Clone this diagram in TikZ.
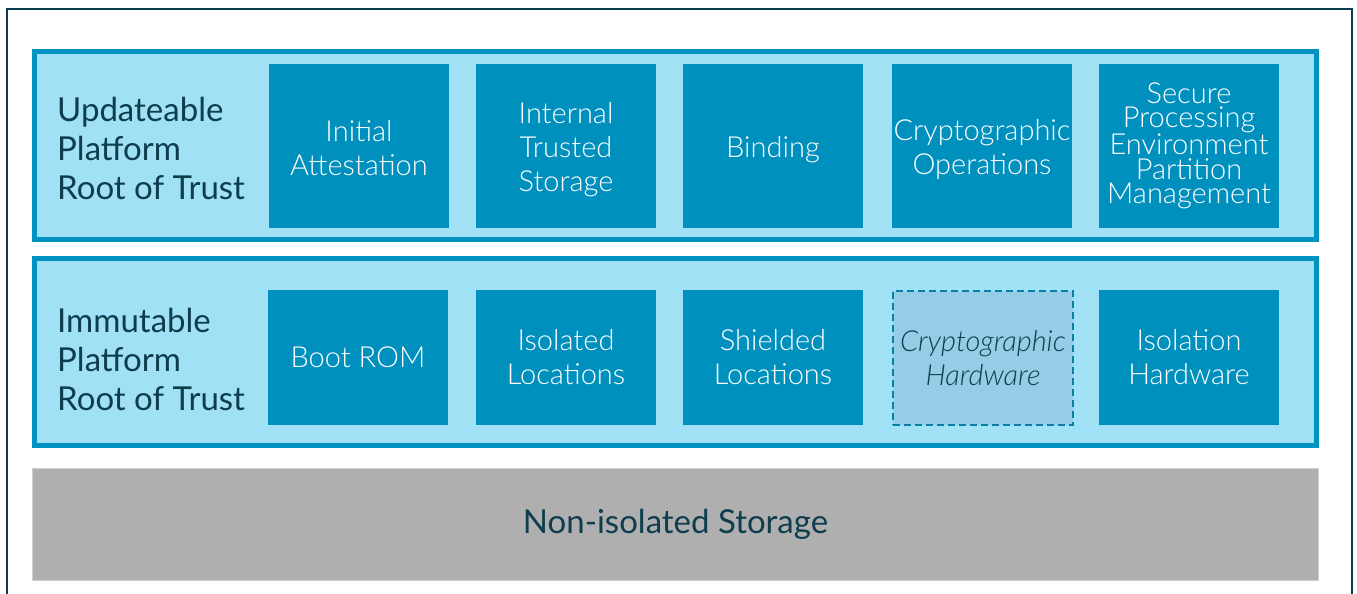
\documentclass[tikz,border=0pt]{standalone}
\usepackage{fontspec}
\setmainfont{Lato}
\newfontfamily\lightfont{Lato Light}
\usepackage{xcolor}
\definecolor{framec}{HTML}{0B3D4F}
\definecolor{bandline}{HTML}{0092C0}
\definecolor{bandfill}{HTML}{A0E1F5}
\definecolor{blkfill}{HTML}{0090BE}
\definecolor{ghostfill}{HTML}{96CDE6}
\definecolor{ghostline}{HTML}{0A7FA6}
\definecolor{storefill}{HTML}{AFAFAF}
\definecolor{textc}{HTML}{0E3D4E}
% strut that pushes the text of the upper boxes a little down
\newcommand{\lift}{\rule{0pt}{29pt}}

\begin{document}
\begin{tikzpicture}[x=1pt, y=-1pt,
			band/.style={draw=bandline, line width=5pt, fill=bandfill,
				minimum width=1282pt, inner sep=0pt},
			blk/.style={fill=blkfill, text=white, minimum width=180pt, inner sep=0pt,
				align=center, font=\lightfont\fontsize{29}{34}\selectfont},
			upblk/.style={blk, minimum height=163pt},
			ghost/.style={blk, fill=ghostfill, draw=ghostline, line width=2pt,
				dash pattern=on 7pt off 4pt, text=textc,
				font=\lightfont\itshape\fontsize{29}{34}\selectfont},
			lbl/.style={text=textc, align=left, anchor=west, inner sep=0pt,
				font=\fontsize{33}{39}\selectfont}
			]
			\useasboundingbox (0,0) rectangle (1357,594);
			% outer frame, open at the bottom
			\draw[framec, line width=2pt] (7,594) -- (7,9) -- (1352,9) -- (1352,594);
			% updateable layer
			\node[band, minimum height=188pt] (upd) at (675.5,145.5) {};
			\node[lbl] (updl) at (57,148) {Updateable\\ Platform\\ Root of Trust};
			\node[upblk] (att) at (359,146) {\rule{0pt}{25pt}Initial\\ Attestation};
			\node[upblk] (its) at (566,146) {\lift Internal\\ Trusted\\ Storage};
			\node[upblk] (bind) at (773,146) {\lift Binding};
			\node[upblk] (cops) at (982,146) {\lift Cryptographic\\ Operations};
			\node[upblk, font=\lightfont\fontsize{29}{24.5}\selectfont] (spm) at (1189,146)
			{Secure\\ Processing\\ Environment\\ Partition\\ Management};
			% immutable layer
			\node[band, minimum height=187pt] (imm) at (675.5,352) {};
			\node[lbl] (imml) at (57,359) {Immutable\\ Platform\\ Root of Trust};
			\node[blk, minimum height=135pt] (rom) at (358,357.5) {Boot ROM};
			\node[blk, minimum height=135pt] (isol) at (566,357.5) {Isolated\\ Locations};
			\node[blk, minimum height=135pt] (shld) at (773,357.5) {Shielded\\ Locations};
			\node[ghost, minimum height=134pt] (chw) at (983,358) {Cryptographic\\ Hardware};
			\node[blk, minimum height=135pt] (isohw) at (1189,357.5) {Isolation\\ Hardware};
			% storage
			\node[fill=storefill, draw=black!19, line width=1pt, minimum width=1286pt,
				minimum height=112pt, text=textc, font=\fontsize{33}{38}\selectfont]
				(store) at (675.5,524.5) {Non-isolated Storage};
	\end{tikzpicture}
\end{document}
